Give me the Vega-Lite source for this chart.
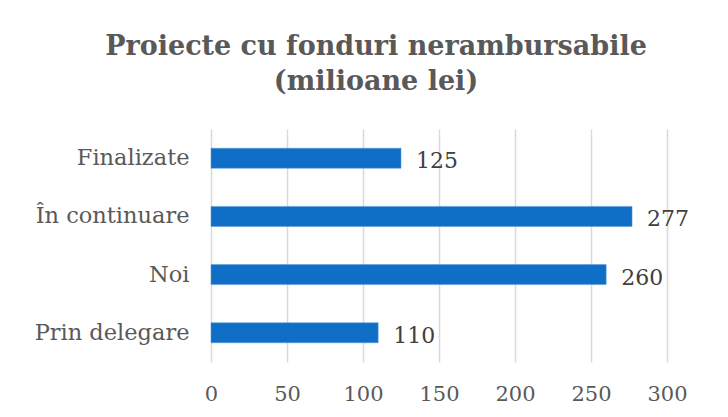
{
  "$schema": "https://vega.github.io/schema/vega-lite/v6.json",
  "width": 456,
  "height": 233,
  "autosize": {"type": "none"},
  "padding": {"left": 211, "top": 129, "right": 61, "bottom": 55},
  "background": "white",
  "title": {
    "text": ["Proiecte cu fonduri nerambursabile", "(milioane lei)"],
    "anchor": "middle",
    "frame": "group",
    "dx": -63,
    "offset": 33,
    "font": "DejaVu Serif",
    "fontSize": 27,
    "fontWeight": "bold",
    "color": "#595959",
    "lineHeight": 35
  },
  "data": {
    "values": [
      {"cat": "Finalizate", "val": 125},
      {"cat": "În continuare", "val": 277},
      {"cat": "Noi", "val": 260},
      {"cat": "Prin delegare", "val": 110}
    ]
  },
  "encoding": {
    "y": {
      "field": "cat",
      "type": "nominal",
      "sort": null,
      "title": null,
      "scale": {"paddingInner": 0.655, "paddingOuter": 0.33},
      "axis": {
        "ticks": false,
        "domain": false,
        "labelPadding": 22,
        "labelFont": "DejaVu Serif",
        "labelFontSize": 22.5,
        "labelColor": "#595959"
      }
    },
    "x": {
      "field": "val",
      "type": "quantitative",
      "title": null,
      "scale": {"domain": [0, 300], "nice": false},
      "axis": {
        "values": [0, 50, 100, 150, 200, 250, 300],
        "ticks": false,
        "domain": false,
        "labelFlush": false,
        "labelPadding": 21,
        "labelFont": "DejaVu Serif",
        "labelFontSize": 21,
        "labelColor": "#595959",
        "gridColor": "#D9D9D9",
        "gridWidth": 1.5
      }
    }
  },
  "layer": [
    {"mark": {"type": "bar", "color": "#0F6FC6", "stroke": "#5B9BD5", "strokeWidth": 0.5}},
    {
      "mark": {
        "type": "text",
        "align": "left",
        "dx": 15,
        "dy": 3,
        "font": "DejaVu Serif",
        "fontSize": 22,
        "color": "#404040"
      },
      "encoding": {"text": {"field": "val", "type": "quantitative"}}
    }
  ],
  "config": {"view": {"stroke": null}}
}
